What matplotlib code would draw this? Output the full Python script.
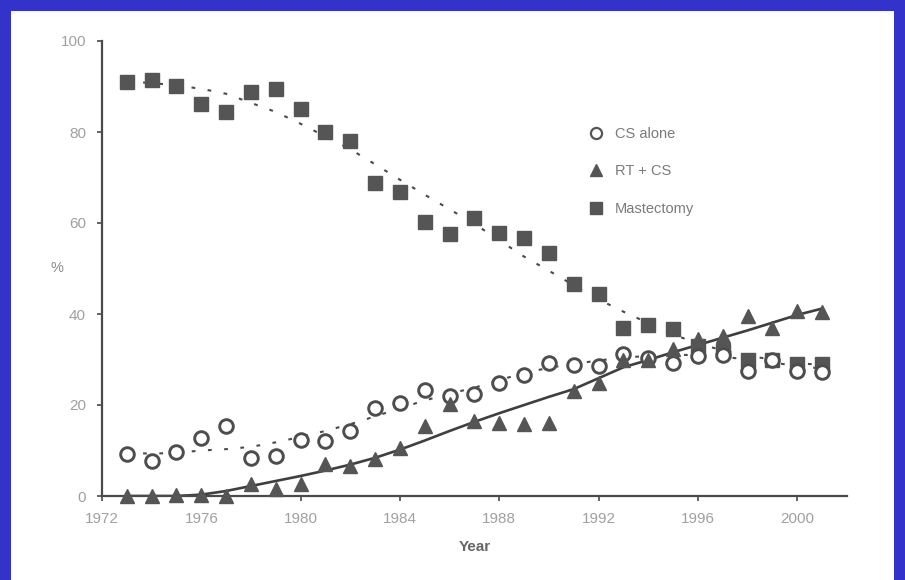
import matplotlib
matplotlib.use("Agg")
from matplotlib import pyplot as plt
from matplotlib.lines import Line2D
from matplotlib.patches import Rectangle

years = list(range(1973, 2002))

# yearly shares (%)
cs_alone = [9.2, 7.7, 9.7, 12.8, 15.4, 8.4, 8.8, 12.3, 12.1, 14.3,
            19.4, 20.5, 23.4, 22.0, 22.4, 24.9, 26.7, 29.3, 28.9, 28.6,
            31.1, 30.4, 29.3, 30.8, 31.0, 27.5, 30.0, 27.5, 27.2]
rt_cs = [0.0, 0.0, 0.3, 0.3, 0.0, 2.6, 1.5, 2.6, 7.0, 6.6,
         8.1, 10.6, 15.4, 20.2, 16.5, 16.1, 15.8, 16.1, 23.1, 24.9,
         30.0, 30.0, 32.2, 34.4, 35.2, 39.6, 37.0, 40.7, 40.5]
mastectomy = [90.9, 91.4, 90.1, 86.1, 84.4, 88.7, 89.5, 85.0, 79.9, 78.0,
              68.9, 66.8, 60.2, 57.5, 61.0, 57.9, 56.8, 53.5, 46.5, 44.3,
              37.0, 37.5, 36.6, 33.0, 31.8, 30.0, 30.0, 29.0, 29.0]

# smoothed trends
cs_trend = [9.5, 9.3, 9.5, 10.0, 10.3, 10.8, 11.8, 13.0, 14.3, 15.8,
            17.5, 19.3, 21.0, 22.5, 23.8, 25.5, 27.0, 28.2, 29.0, 29.8,
            30.4, 30.8, 31.0, 31.0, 30.6, 30.0, 29.3, 28.6, 28.0]
rt_trend = [0.0, 0.0, 0.0, 0.3, 1.1, 2.2, 3.3, 4.4, 5.6, 6.9,
            8.4, 10.2, 12.2, 14.3, 16.3, 18.2, 20.0, 21.8, 23.5, 25.9,
            28.3, 29.9, 31.6, 33.2, 34.8, 36.4, 38.1, 39.8, 41.2]
mast_trend = [91.0, 90.8, 90.2, 89.5, 88.4, 86.4, 84.4, 81.8, 79.0, 76.2,
              72.9, 69.5, 66.2, 63.0, 59.8, 56.2, 52.6, 49.5, 46.3, 43.2,
              40.5, 38.0, 35.5, 33.5, 32.0, 30.8, 30.0, 29.2, 28.8]

xticks = [1972, 1976, 1980, 1984, 1988, 1992, 1996, 2000]
yticks = [0, 20, 40, 60, 80, 100]
labels = ["CS alone", "RT + CS", "Mastectomy"]

DARK = "#4a4a4a"
MARK = "#555555"
TICK_TXT = "#a0a0a0"
FONT = "Liberation Sans"

fig = plt.figure(figsize=(9.05, 5.8), dpi=100)
fig.patch.set_facecolor("#3333cc")
# white page inside the blue frame
page = Rectangle((11 / 905, 0), 1 - 22 / 905, 1 - 11 / 580,
                 transform=fig.transFigure, facecolor="white",
                 edgecolor="none", zorder=-10)
fig.add_artist(page)

ax = fig.add_axes([102 / 905, 84 / 580, 745 / 905, 455 / 580])
ax.set_facecolor("none")

ax.plot(years, mast_trend, color=DARK, lw=1.5, linestyle=(0, (1.8, 6)), zorder=2)
ax.plot(years, cs_trend, color=DARK, lw=1.5, linestyle=(0, (1.8, 6)), zorder=2)
ax.plot(years, rt_trend, color="#3f3f3f", lw=1.9, zorder=2)

ax.plot(years, mastectomy, "s", ms=10.5, color=MARK, mec=MARK, zorder=3, clip_on=False)
ax.plot(years, cs_alone, "o", ms=9.8, mfc="white", mec="#4d4d4d", mew=2.1,
        zorder=3, clip_on=False)
ax.plot(years, rt_cs, "^", ms=10.5, color=MARK, mec=MARK, zorder=4, clip_on=False)

ax.set_xlim(1972, 2002)
ax.set_ylim(0, 100)
ax.set_xticks(xticks)
ax.set_yticks(yticks)

for side in ["top", "right"]:
    ax.spines[side].set_visible(False)
for side in ["left", "bottom"]:
    ax.spines[side].set_color(DARK)
    ax.spines[side].set_linewidth(1.6)

ax.tick_params(axis="both", colors=DARK, width=1.2, length=3.5, direction="out",
               labelcolor=TICK_TXT, labelsize=11, pad=8)
for lab in ax.get_xticklabels() + ax.get_yticklabels():
    lab.set_fontfamily(FONT)

ax.set_xlabel("Year", fontsize=11, fontweight="bold", color="#666666",
              fontfamily=FONT, labelpad=10)
ax.set_ylabel("%", fontsize=10.5, color="#8a8a8a", fontfamily=FONT,
              rotation=0, va="center")
ax.yaxis.set_label_coords(-0.06, 0.5)

handles = [
    Line2D([], [], marker="o", ls="none", ms=8, mfc="white", mec="#555555", mew=1.6),
    Line2D([], [], marker="^", ls="none", ms=8.5, color=MARK),
    Line2D([], [], marker="s", ls="none", ms=8, color=MARK),
]
leg = fig.legend(handles, labels, loc="upper left",
                 bbox_to_anchor=(588.7 / 905, 1 - 127 / 580),
                 frameon=False, handlelength=1.0, handletextpad=0.8,
                 labelspacing=1.6, borderpad=0, borderaxespad=0,
                 prop={"family": FONT, "size": 10.5})
for t in leg.get_texts():
    t.set_color("#7a7a7a")

fig.savefig("out.png", dpi=100, facecolor=fig.get_facecolor())
